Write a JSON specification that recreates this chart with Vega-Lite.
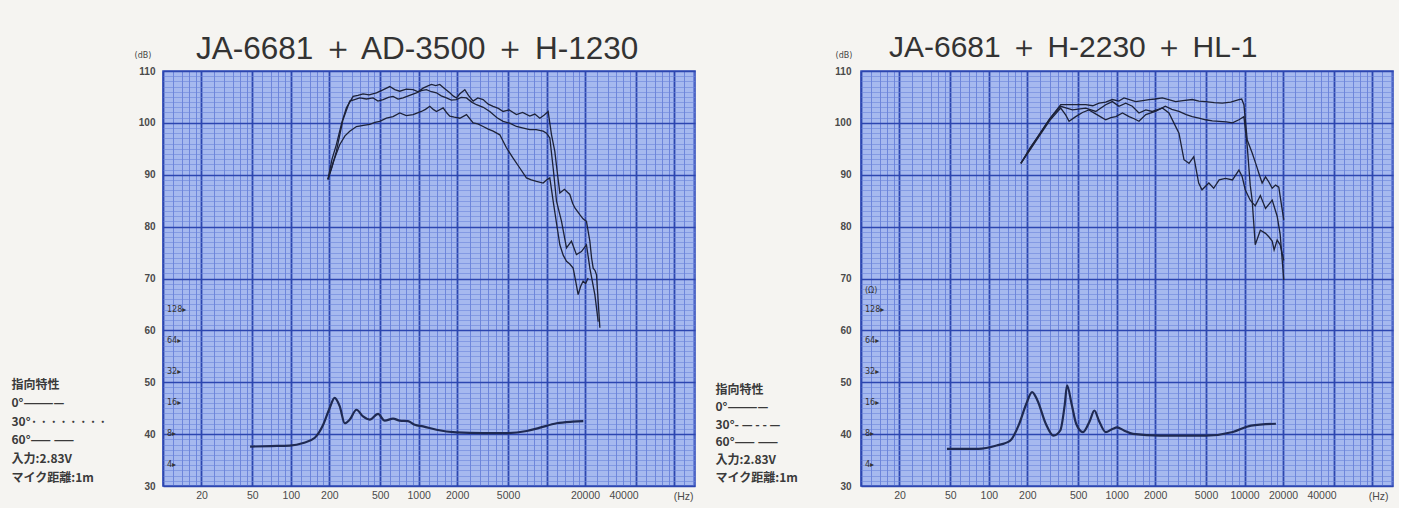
{
"$schema": "https://vega.github.io/schema/vega-lite/v6.json",
"padding": {"left": 10, "top": 32, "right": 5, "bottom": 5},
"background": "#f5f4f1",
"spacing": 18,
"config": {
  "view": {"fill": "#a6b9ef", "stroke": "#3650bc", "strokeWidth": 1.6},
  "font": "Liberation Sans"
},
"datasets": {
  "resp1": [
    {"a":"0","f":195,"db":89.1},{"a":"0","f":210,"db":93},{"a":"0","f":227,"db":95.8},{"a":"0","f":250,"db":100},{"a":"0","f":272,"db":102.9},{"a":"0","f":307,"db":105.1},{"a":"0","f":335,"db":105.3},{"a":"0","f":367,"db":105.6},{"a":"0","f":410,"db":105.4},{"a":"0","f":467,"db":105.8},{"a":"0","f":520,"db":106.3},{"a":"0","f":594,"db":107.0},{"a":"0","f":650,"db":106.4},{"a":"0","f":711,"db":106.1},{"a":"0","f":800,"db":106.5},{"a":"0","f":904,"db":106.4},{"a":"0","f":990,"db":106.0},{"a":"0","f":1082,"db":106.7},{"a":"0","f":1170,"db":107.1},{"a":"0","f":1259,"db":107.4},{"a":"0","f":1360,"db":107.2},{"a":"0","f":1462,"db":107.4},{"a":"0","f":1600,"db":106.6},{"a":"0","f":1751,"db":105.8},{"a":"0","f":1860,"db":105.2},{"a":"0","f":1974,"db":104.8},{"a":"0","f":2100,"db":105.6},{"a":"0","f":2296,"db":106.4},{"a":"0","f":2450,"db":105.3},{"a":"0","f":2667,"db":104.2},{"a":"0","f":2900,"db":104.8},{"a":"0","f":3192,"db":104.5},{"a":"0","f":3500,"db":103.6},{"a":"0","f":3822,"db":103.2},{"a":"0","f":4200,"db":102.8},{"a":"0","f":4575,"db":102.2},{"a":"0","f":5100,"db":102.5},{"a":"0","f":5817,"db":101.6},{"a":"0","f":6500,"db":102.0},{"a":"0","f":7395,"db":101.3},{"a":"0","f":8100,"db":101.7},{"a":"0","f":8865,"db":100.9},{"a":"0","f":9600,"db":101.5},{"a":"0","f":10300,"db":102.2},{"a":"0","f":10940,"db":97.7},{"a":"0","f":11610,"db":94.5},{"a":"0","f":12200,"db":90},{"a":"0","f":12710,"db":86.5},{"a":"0","f":13800,"db":87.2},{"a":"0","f":15210,"db":86.2},{"a":"0","f":16000,"db":84.5},{"a":"0","f":16670,"db":83.6},{"a":"0","f":17400,"db":83.0},{"a":"0","f":18220,"db":82.3},{"a":"0","f":19300,"db":81.5},{"a":"0","f":20530,"db":81.0},{"a":"0","f":21200,"db":79},{"a":"0","f":21820,"db":77.2},{"a":"0","f":22500,"db":74},{"a":"0","f":23170,"db":72.0},{"a":"0","f":24000,"db":71.5},{"a":"0","f":24610,"db":70.7},{"a":"0","f":25300,"db":66},{"a":"0","f":26130,"db":60.5},
    {"a":"30","f":195,"db":89.1},{"a":"30","f":210,"db":91.5},{"a":"30","f":227,"db":94.5},{"a":"30","f":255,"db":100.5},{"a":"30","f":289,"db":104.2},{"a":"30","f":315,"db":104.5},{"a":"30","f":346,"db":104.8},{"a":"30","f":390,"db":104.6},{"a":"30","f":440,"db":104.8},{"a":"30","f":480,"db":104.2},{"a":"30","f":527,"db":104.5},{"a":"30","f":580,"db":104.9},{"a":"30","f":630,"db":105.1},{"a":"30","f":690,"db":104.6},{"a":"30","f":755,"db":104.8},{"a":"30","f":850,"db":105.3},{"a":"30","f":960,"db":105.8},{"a":"30","f":1050,"db":106.2},{"a":"30","f":1148,"db":106.4},{"a":"30","f":1260,"db":106.0},{"a":"30","f":1377,"db":105.8},{"a":"30","f":1500,"db":105.2},{"a":"30","f":1649,"db":104.8},{"a":"30","f":1800,"db":104.4},{"a":"30","f":1974,"db":104.5},{"a":"30","f":2150,"db":104.9},{"a":"30","f":2366,"db":104.8},{"a":"30","f":2600,"db":104.0},{"a":"30","f":2831,"db":103.5},{"a":"30","f":3200,"db":103.0},{"a":"30","f":3599,"db":102.2},{"a":"30","f":4100,"db":101.0},{"a":"30","f":4575,"db":100.3},{"a":"30","f":5200,"db":99.9},{"a":"30","f":5817,"db":99.3},{"a":"30","f":6600,"db":99.0},{"a":"30","f":7395,"db":98.7},{"a":"30","f":8300,"db":98.7},{"a":"30","f":9404,"db":98.4},{"a":"30","f":10000,"db":98.0},{"a":"30","f":10610,"db":97.1},{"a":"30","f":11270,"db":91.3},{"a":"30","f":11970,"db":84.9},{"a":"30","f":13100,"db":81.0},{"a":"30","f":14330,"db":75.9},{"a":"30","f":15670,"db":77.2},{"a":"30","f":17140,"db":74.6},{"a":"30","f":18750,"db":75.2},{"a":"30","f":20530,"db":76.5},{"a":"30","f":21820,"db":72.0},{"a":"30","f":23880,"db":66.9},{"a":"30","f":25360,"db":61.7},
    {"a":"60","f":195,"db":89.1},{"a":"60","f":215,"db":92.5},{"a":"60","f":241,"db":95.8},{"a":"60","f":265,"db":97.5},{"a":"60","f":289,"db":98.4},{"a":"60","f":326,"db":99.3},{"a":"60","f":370,"db":99.5},{"a":"60","f":414,"db":99.7},{"a":"60","f":455,"db":100.1},{"a":"60","f":496,"db":100.3},{"a":"60","f":559,"db":100.9},{"a":"60","f":630,"db":101.2},{"a":"60","f":711,"db":101.9},{"a":"60","f":800,"db":101.4},{"a":"60","f":904,"db":101.6},{"a":"60","f":1050,"db":102.2},{"a":"60","f":1130,"db":102.6},{"a":"60","f":1222,"db":103.2},{"a":"60","f":1300,"db":102.6},{"a":"60","f":1377,"db":102.2},{"a":"60","f":1553,"db":102.9},{"a":"60","f":1650,"db":102.0},{"a":"60","f":1751,"db":101.3},{"a":"60","f":1900,"db":101.1},{"a":"60","f":2099,"db":100.9},{"a":"60","f":2366,"db":101.6},{"a":"60","f":2667,"db":100.0},{"a":"60","f":2900,"db":99.8},{"a":"60","f":3192,"db":99.3},{"a":"60","f":3500,"db":98.8},{"a":"60","f":3822,"db":98.4},{"a":"60","f":4312,"db":97.7},{"a":"60","f":4857,"db":95.2},{"a":"60","f":5478,"db":93.2},{"a":"60","f":6177,"db":91.3},{"a":"60","f":6965,"db":89.4},{"a":"60","f":7600,"db":89.0},{"a":"60","f":8339,"db":88.7},{"a":"60","f":9404,"db":88.4},{"a":"60","f":10000,"db":89.0},{"a":"60","f":10610,"db":89.4},{"a":"60","f":11270,"db":84.9},{"a":"60","f":12000,"db":80.5},{"a":"60","f":12710,"db":76.5},{"a":"60","f":13500,"db":74.5},{"a":"60","f":14330,"db":73.3},{"a":"60","f":15200,"db":72.8},{"a":"60","f":16150,"db":72.0},{"a":"60","f":16900,"db":69.5},{"a":"60","f":17670,"db":66.9},{"a":"60","f":18500,"db":68.5},{"a":"60","f":19330,"db":69.5},{"a":"60","f":20200,"db":69.0},{"a":"60","f":21170,"db":70.1}
  ],
  "imp1": [
    {"f":48,"db":37.6},{"f":70,"db":37.7},{"f":98,"db":37.8},{"f":125,"db":38.3},{"f":154,"db":39.3},{"f":179,"db":41.8},{"f":201,"db":45.0},{"f":220,"db":47.0},{"f":241,"db":45.4},{"f":264,"db":42.1},{"f":289,"db":42.8},{"f":326,"db":44.7},{"f":367,"db":43.4},{"f":414,"db":42.8},{"f":481,"db":43.9},{"f":543,"db":42.6},{"f":630,"db":43.0},{"f":711,"db":42.6},{"f":826,"db":42.5},{"f":931,"db":41.8},{"f":1082,"db":41.5},{"f":1377,"db":40.85},{"f":1974,"db":40.35},{"f":3192,"db":40.2},{"f":4920,"db":40.2},{"f":7000,"db":40.6},{"f":8750,"db":41.2},{"f":12000,"db":42.1},{"f":16000,"db":42.4},{"f":19400,"db":42.5}
  ],
  "ohm1": [
    {"label":"128▸","db":64},{"label":"64▸","db":58},{"label":"32▸","db":52},{"label":"16▸","db":46},{"label":"8▸","db":40},{"label":"4▸","db":34}
  ],
  "resp2": [
    {"a":"0","f":178,"db":92.2},{"a":"0","f":210,"db":95},{"a":"0","f":247,"db":97.7},{"a":"0","f":300,"db":100.8},{"a":"0","f":365,"db":103.5},{"a":"0","f":451,"db":103.5},{"a":"0","f":573,"db":103.5},{"a":"0","f":650,"db":103.3},{"a":"0","f":728,"db":103.8},{"a":"0","f":820,"db":104.0},{"a":"0","f":925,"db":104.5},{"a":"0","f":1040,"db":104.2},{"a":"0","f":1141,"db":104.8},{"a":"0","f":1260,"db":104.5},{"a":"0","f":1407,"db":104.1},{"a":"0","f":1600,"db":104.3},{"a":"0","f":1790,"db":104.5},{"a":"0","f":2000,"db":104.6},{"a":"0","f":2275,"db":104.8},{"a":"0","f":2550,"db":104.5},{"a":"0","f":2891,"db":104.1},{"a":"0","f":3300,"db":104.3},{"a":"0","f":3901,"db":104.5},{"a":"0","f":4400,"db":104.2},{"a":"0","f":4958,"db":104.1},{"a":"0","f":5800,"db":103.9},{"a":"0","f":6700,"db":103.8},{"a":"0","f":7800,"db":104.0},{"a":"0","f":9040,"db":104.5},{"a":"0","f":9500,"db":104.6},{"a":"0","f":9890,"db":103.5},{"a":"0","f":10500,"db":96.7},{"a":"0","f":11480,"db":94.2},{"a":"0","f":12300,"db":92},{"a":"0","f":12940,"db":90.3},{"a":"0","f":13730,"db":88.4},{"a":"0","f":14590,"db":89.6},{"a":"0","f":15500,"db":88.6},{"a":"0","f":16460,"db":87.4},{"a":"0","f":17500,"db":88.0},{"a":"0","f":18540,"db":87.6},{"a":"0","f":19500,"db":84.0},{"a":"0","f":20280,"db":81.3},
    {"a":"30","f":178,"db":92.2},{"a":"30","f":210,"db":94.8},{"a":"30","f":247,"db":97.4},{"a":"30","f":300,"db":100.5},{"a":"30","f":365,"db":102.85},{"a":"30","f":400,"db":101.5},{"a":"30","f":424,"db":100.3},{"a":"30","f":478,"db":101.2},{"a":"30","f":540,"db":102.0},{"a":"30","f":606,"db":102.5},{"a":"30","f":700,"db":101.6},{"a":"30","f":820,"db":100.6},{"a":"30","f":900,"db":101.0},{"a":"30","f":985,"db":101.2},{"a":"30","f":1110,"db":101.9},{"a":"30","f":1250,"db":101.2},{"a":"30","f":1370,"db":100.8},{"a":"30","f":1494,"db":100.3},{"a":"30","f":1690,"db":101.6},{"a":"30","f":2010,"db":102.2},{"a":"30","f":2400,"db":103.2},{"a":"30","f":2700,"db":102.6},{"a":"30","f":3070,"db":102.2},{"a":"30","f":3500,"db":101.6},{"a":"30","f":3900,"db":101.2},{"a":"30","f":4400,"db":100.9},{"a":"30","f":4958,"db":100.6},{"a":"30","f":5600,"db":100.4},{"a":"30","f":6330,"db":100.3},{"a":"30","f":7200,"db":100.2},{"a":"30","f":8050,"db":100.0},{"a":"30","f":9040,"db":100.6},{"a":"30","f":9890,"db":101.2},{"a":"30","f":10500,"db":95.5},{"a":"30","f":11080,"db":88.0},{"a":"30","f":11480,"db":85.0},{"a":"30","f":12130,"db":76.5},{"a":"30","f":13300,"db":79.3},{"a":"30","f":14590,"db":78.7},{"a":"30","f":15550,"db":78.0},{"a":"30","f":16460,"db":77.2},{"a":"30","f":17040,"db":75.5},{"a":"30","f":18000,"db":77.4},{"a":"30","f":19000,"db":76.5},{"a":"30","f":20280,"db":73.5},
    {"a":"60","f":178,"db":92.2},{"a":"60","f":210,"db":95.2},{"a":"60","f":247,"db":97.7},{"a":"60","f":300,"db":100.8},{"a":"60","f":365,"db":103.2},{"a":"60","f":451,"db":102.5},{"a":"60","f":573,"db":102.85},{"a":"60","f":686,"db":102.2},{"a":"60","f":820,"db":103.5},{"a":"60","f":925,"db":104.1},{"a":"60","f":1042,"db":103.2},{"a":"60","f":1177,"db":103.8},{"a":"60","f":1325,"db":103.2},{"a":"60","f":1494,"db":101.9},{"a":"60","f":1690,"db":102.5},{"a":"60","f":1900,"db":102.2},{"a":"60","f":2275,"db":102.85},{"a":"60","f":2564,"db":101.9},{"a":"60","f":2800,"db":100.0},{"a":"60","f":3070,"db":98.0},{"a":"60","f":3360,"db":92.9},{"a":"60","f":3680,"db":92.2},{"a":"60","f":4010,"db":93.5},{"a":"60","f":4380,"db":88.4},{"a":"60","f":4650,"db":87.1},{"a":"60","f":5260,"db":88.4},{"a":"60","f":5740,"db":87.4},{"a":"60","f":6330,"db":89.0},{"a":"60","f":7100,"db":89.3},{"a":"60","f":8050,"db":89.0},{"a":"60","f":9040,"db":90.9},{"a":"60","f":9590,"db":89.6},{"a":"60","f":10130,"db":87.1},{"a":"60","f":11080,"db":85.1},{"a":"60","f":12130,"db":84.0},{"a":"60","f":13300,"db":86.0},{"a":"60","f":14590,"db":83.5},{"a":"60","f":16460,"db":85.1},{"a":"60","f":18000,"db":82.0},{"a":"60","f":19000,"db":78.5},{"a":"60","f":20280,"db":69.7}
  ],
  "imp2": [
    {"f":47,"db":37.15},{"f":83,"db":37.15},{"f":115,"db":37.8},{"f":147,"db":38.75},{"f":173,"db":42.0},{"f":196,"db":45.8},{"f":218,"db":48.1},{"f":240,"db":46.5},{"f":279,"db":42.0},{"f":320,"db":39.7},{"f":362,"db":40.7},{"f":393,"db":45.8},{"f":409,"db":49.4},{"f":444,"db":45.8},{"f":482,"db":42.0},{"f":545,"db":40.4},{"f":617,"db":42.6},{"f":669,"db":44.55},{"f":726,"db":42.6},{"f":820,"db":40.4},{"f":927,"db":41.0},{"f":1007,"db":41.3},{"f":1140,"db":40.7},{"f":1340,"db":40.05},{"f":2187,"db":39.7},{"f":4958,"db":39.7},{"f":8100,"db":40.4},{"f":11250,"db":41.65},{"f":17600,"db":42.0}
  ],
  "ohm2": [
    {"label":"(Ω)","db":67.5},{"label":"128▸","db":64},{"label":"64▸","db":58},{"label":"32▸","db":52},{"label":"16▸","db":46},{"label":"8▸","db":40},{"label":"4▸","db":34}
  ]
},
"hconcat": [
  {
    "width": 532, "height": 415,
    "title": {"text": "JA-6681 ＋ AD-3500 ＋ H-1230", "anchor": "start", "frame": "group", "dx": 33, "fontSize": 31.5, "font": "Liberation Sans", "fontWeight": "normal", "color": "#333333", "offset": -13},
    "layer": [
      {
        "data": {"name": "resp1"},
        "mark": {"type": "line", "color": "#1d2238", "strokeWidth": 1.3},
        "encoding": {
          "x": {"field": "f", "type": "quantitative", "scale": {"type": "log", "domain": [10, 145000], "nice": false},
            "axis": {
              "values": [10,12,14,16,18,20,25,30,35,40,45,50,60,70,80,90,100,120,140,160,180,200,250,300,350,400,450,500,600,700,800,900,1000,1200,1400,1600,1800,2000,2500,3000,3500,4000,4500,5000,6000,7000,8000,9000,10000,12000,14000,16000,18000,20000,25000,30000,35000,40000,45000,50000,60000,70000,80000,90000,100000,120000,140000],
              "tickCount": 300,
              "labelExpr": "indexof([20,50,100,200,500,1000,2000,5000,20000,40000], datum.value) >= 0 ? '' + datum.value : ''",
              "labelOverlap": false, "labelFlush": false, "ticks": false, "domain": false,
              "labelFontSize": 10.5, "labelColor": "#4a4a4a", "labelPadding": 4, "labelFont": "Liberation Sans",
              "grid": true,
              "gridColor": {"condition": {"test": "indexof([10,20,50,100,200,500,1000,2000,5000,10000,20000,50000,100000], datum.value) >= 0", "value": "#2c46b0"}, "value": "#5670d2"},
              "gridWidth": {"condition": {"test": "indexof([10,20,50,100,200,500,1000,2000,5000,10000,20000,50000,100000], datum.value) >= 0", "value": 1.8}, "value": 0.7},
              "title": "(Hz)", "titleAnchor": "end", "titleAlign": "right", "titleX": 530, "titleY": 10, "titleBaseline": "middle",
              "titleFontSize": 10.5, "titleFontWeight": "normal", "titleColor": "#4a4a4a", "titleFont": "Liberation Sans"
            }},
          "y": {"field": "db", "type": "quantitative", "scale": {"domain": [30, 110], "nice": false},
            "axis": {
              "values": [30,31,32,33,34,35,36,37,38,39,40,41,42,43,44,45,46,47,48,49,50,51,52,53,54,55,56,57,58,59,60,61,62,63,64,65,66,67,68,69,70,71,72,73,74,75,76,77,78,79,80,81,82,83,84,85,86,87,88,89,90,91,92,93,94,95,96,97,98,99,100,101,102,103,104,105,106,107,108,109,110],
              "tickCount": 300,
              "labelExpr": "datum.value % 10 == 0 ? '' + datum.value : ''",
              "labelOverlap": false, "labelFlush": false, "ticks": false, "domain": false,
              "labelFontSize": 10, "labelColor": "#4a4a4a", "labelPadding": 8, "labelFont": "Liberation Sans", "labelFontWeight": "bold",
              "grid": true,
              "gridColor": {"condition": {"test": "datum.value % 10 == 0", "value": "#2c46b0"}, "value": "#6c84da"},
              "gridWidth": {"condition": {"test": "datum.value % 10 == 0", "value": 1.6}, "value": 0.6},
              "title": ["指向特性", "0°————", "30°· · · · ·  · · ·", "60°——  ——", "入力:2.83V", "マイク距離:1m"],
              "titleAngle": 0, "titleAlign": "left", "titleBaseline": "top", "titleX": -152, "titleY": 308,
              "titleFont": "Noto Sans CJK JP", "titleFontSize": 12, "titleFontWeight": "bold", "titleLineHeight": 18.6, "titleColor": "#3a3a3a"
            }},
          "detail": {"field": "a"}
        }
      },
      {
        "data": {"name": "imp1"},
        "mark": {"type": "line", "color": "#1f2a52", "strokeWidth": 2.2, "interpolate": "monotone"},
        "encoding": {"x": {"field": "f", "type": "quantitative"}, "y": {"field": "db", "type": "quantitative"}}
      },
      {
        "data": {"name": "ohm1"},
        "mark": {"type": "text", "align": "left", "dx": 4, "fontSize": 8, "font": "DejaVu Sans", "color": "#333333"},
        "encoding": {"x": {"datum": 10}, "y": {"field": "db", "type": "quantitative"}, "text": {"field": "label"}}
      },
      {
        "data": {"values": [{"label": "(dB)"}]},
        "mark": {"type": "text", "dx": -20, "dy": -15, "fontSize": 8, "font": "DejaVu Sans", "color": "#444444"},
        "encoding": {"x": {"datum": 10}, "y": {"datum": 110}, "text": {"field": "label"}}
      }
    ]
  },
  {
    "width": 532, "height": 415,
    "title": {"text": "JA-6681 ＋ H-2230 ＋ HL-1", "anchor": "start", "frame": "group", "dx": 28, "fontSize": 30, "font": "Liberation Sans", "fontWeight": "normal", "color": "#333333", "offset": -11},
    "layer": [
      {
        "data": {"name": "resp2"},
        "mark": {"type": "line", "color": "#1d2238", "strokeWidth": 1.3},
        "encoding": {
          "x": {"field": "f", "type": "quantitative", "scale": {"type": "log", "domain": [10, 145000], "nice": false},
            "axis": {
              "values": [10,12,14,16,18,20,25,30,35,40,45,50,60,70,80,90,100,120,140,160,180,200,250,300,350,400,450,500,600,700,800,900,1000,1200,1400,1600,1800,2000,2500,3000,3500,4000,4500,5000,6000,7000,8000,9000,10000,12000,14000,16000,18000,20000,25000,30000,35000,40000,45000,50000,60000,70000,80000,90000,100000,120000,140000],
              "tickCount": 300,
              "labelExpr": "indexof([20,50,100,200,500,1000,2000,5000,10000,20000,40000], datum.value) >= 0 ? '' + datum.value : ''",
              "labelOverlap": false, "labelFlush": false, "ticks": false, "domain": false,
              "labelFontSize": 10.5, "labelColor": "#4a4a4a", "labelPadding": 4, "labelFont": "Liberation Sans",
              "grid": true,
              "gridColor": {"condition": {"test": "indexof([10,20,50,100,200,500,1000,2000,5000,10000,20000,50000,100000], datum.value) >= 0", "value": "#2c46b0"}, "value": "#5670d2"},
              "gridWidth": {"condition": {"test": "indexof([10,20,50,100,200,500,1000,2000,5000,10000,20000,50000,100000], datum.value) >= 0", "value": 1.8}, "value": 0.7},
              "title": "(Hz)", "titleAnchor": "end", "titleAlign": "right", "titleX": 527, "titleY": 10, "titleBaseline": "middle",
              "titleFontSize": 10.5, "titleFontWeight": "normal", "titleColor": "#4a4a4a", "titleFont": "Liberation Sans"
            }},
          "y": {"field": "db", "type": "quantitative", "scale": {"domain": [30, 110], "nice": false},
            "axis": {
              "values": [30,31,32,33,34,35,36,37,38,39,40,41,42,43,44,45,46,47,48,49,50,51,52,53,54,55,56,57,58,59,60,61,62,63,64,65,66,67,68,69,70,71,72,73,74,75,76,77,78,79,80,81,82,83,84,85,86,87,88,89,90,91,92,93,94,95,96,97,98,99,100,101,102,103,104,105,106,107,108,109,110],
              "tickCount": 300,
              "labelExpr": "datum.value % 10 == 0 ? '' + datum.value : ''",
              "labelOverlap": false, "labelFlush": false, "ticks": false, "domain": false,
              "labelFontSize": 10, "labelColor": "#4a4a4a", "labelPadding": 10, "labelFont": "Liberation Sans", "labelFontWeight": "bold",
              "grid": true,
              "gridColor": {"condition": {"test": "datum.value % 10 == 0", "value": "#2c46b0"}, "value": "#6c84da"},
              "gridWidth": {"condition": {"test": "datum.value % 10 == 0", "value": 1.6}, "value": 0.6},
              "title": ["指向特性", "0°————", "30°- — -  - —", "60°——  ——", "入力:2.83V", "マイク距離:1m"],
              "titleAngle": 0, "titleAlign": "left", "titleBaseline": "top", "titleX": -146, "titleY": 313,
              "titleFont": "Noto Sans CJK JP", "titleFontSize": 12, "titleFontWeight": "bold", "titleLineHeight": 17.6, "titleColor": "#3a3a3a"
            }},
          "detail": {"field": "a"}
        }
      },
      {
        "data": {"name": "imp2"},
        "mark": {"type": "line", "color": "#1f2a52", "strokeWidth": 2.2, "interpolate": "monotone"},
        "encoding": {"x": {"field": "f", "type": "quantitative"}, "y": {"field": "db", "type": "quantitative"}}
      },
      {
        "data": {"name": "ohm2"},
        "mark": {"type": "text", "align": "left", "dx": 4, "fontSize": 8, "font": "DejaVu Sans", "color": "#333333"},
        "encoding": {"x": {"datum": 10}, "y": {"field": "db", "type": "quantitative"}, "text": {"field": "label"}}
      },
      {
        "data": {"values": [{"label": "(dB)"}]},
        "mark": {"type": "text", "dx": -17, "dy": -15, "fontSize": 8, "font": "DejaVu Sans", "color": "#444444"},
        "encoding": {"x": {"datum": 10}, "y": {"datum": 110}, "text": {"field": "label"}}
      }
    ]
  }
]
}
